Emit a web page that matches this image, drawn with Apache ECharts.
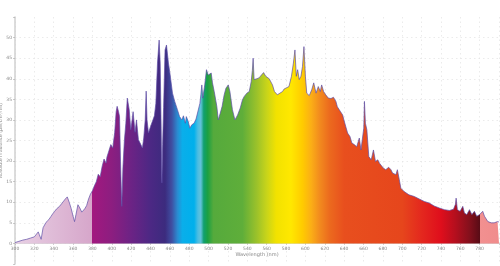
<!DOCTYPE html>
<html>
<head>
<meta charset="utf-8">
<script src="https://cdn.jsdelivr.net/npm/echarts@6/dist/echarts.min.js"></script>
<style>
html,body{margin:0;padding:0;background:#fff;}
#chart{width:500px;height:266px;}
</style>
</head>
<body>
<div id="chart"></div>
<script>
const wavelengths = [300,302,304,306,308,310,312,314,316,318,320,322,324,325,327,329,332,335,337,339,341,343,346,348,350,352,354,356,358,360,361.5,363,365,367,369,370.5,372,374,376,378,380,382,384,386,387,388,390,392,393,394,395,397,399,401,403,404.5,405.5,407,408,409,410.3,411.5,413,414.5,416,418,419.6,421,422,424,425.5,427.5,430,431.6,433,434.5,435.5,436.4,437.9,440,442,444,445.5,447.2,448.9,450,451,451.7,452.5,453.5,455,456.5,458.5,460,462.7,465,467.8,470,472.4,474,476,477,479,480.6,482.6,485,487,489,491,492,493,494,496,497.8,499.6,501,502.7,504,505.8,508.5,510,512,514,516,517.9,520.3,522,524.6,527.2,530,532.7,535,536.8,539.5,542,544,545.2,546,547,549.8,552,554,556.8,559,562.6,566,568,569.6,571,573,576.4,578,580,583,585.6,587.6,589.2,590.6,592,593.6,595.4,597,598.5,600,601.4,604,606.5,608.6,611,613.3,615.4,616.8,618.8,621,623.7,626.4,629,631.5,633,636,638.5,640,643.6,646,648,650.5,653,655.7,657.4,659,660.3,661,662,663.5,665.5,668,670.3,672.4,674.8,676.5,678,680.5,683,686,688.4,690,693.5,695,697,698.6,702,707,712.5,717.6,722.8,728,733,738.4,743.6,748.7,753,755,755.7,757,759.8,762.6,764.3,766.7,769.5,772,774.6,777,780,782,783.2,785,788.5,792,795,798.5,800];
const irradiance = [0.2,0.0,0.5,0.3,0.8,0.7,1.0,1.1,1.3,1.5,1.6,1.9,2.8,2.2,1.0,3.8,5.1,5.8,6.5,7.2,7.8,8.4,9.0,9.6,10.0,10.8,11.3,10.0,8.5,6.6,5.3,7.0,9.4,8.6,7.6,7.2,8.4,9.2,10.8,12.0,12.8,14.0,15.0,16.8,17.2,16.2,18.7,20.5,20.8,19.5,21.0,22.5,24.0,23.2,27,32,33.3,32,30.8,20,9,18.5,25,29.2,35.3,32.5,27.6,30,32,27,30,25.2,24,23.2,25.6,30,37,30,26.8,28.4,28,31,34,43.8,49.4,43.8,28,14.7,24,33,47,48.2,43.8,41.4,36.5,34.5,32.5,30.8,30,31,29.2,30.8,29.6,28,28.8,29.2,30.2,30,34,36.1,38.5,35.3,38.5,42.2,40.9,40.6,41.4,39,36.9,33.3,30,31.6,33.3,36,37.7,38.5,36.9,32.5,30,31.2,32.9,34.9,35.7,36.5,36.9,39.3,42,45,39.8,40,40.2,40.6,41.5,40.6,40,38.5,36.9,37.3,36.1,36.5,36.9,37.5,37.3,38.1,40.6,43.8,47,40.6,42.2,39.8,40.6,43,47.8,40.6,36.5,35.9,37.3,39,36.5,38.1,36.9,38.5,36.9,36.1,35.3,35.2,35.5,34.5,33.2,32.1,31.2,29.8,26.8,26,24.4,24,23.5,25.6,22.7,22.3,28,34.5,29.2,27.6,21.1,20.3,22.7,19.9,20.3,19.5,19.9,18.3,17.9,18.5,17.9,17.1,16.7,17.9,15.5,13.4,12.6,11.8,11.4,10.8,10.2,9.8,9.1,8.6,8.2,8.0,8.3,9.5,11.0,8.2,7.8,9.0,7.4,7.0,8.2,7.0,7.8,6.6,7.0,6.8,7.8,6.6,5.3,5.0,5.0,5.3,5.2];
const xTicks = [300,320,340,360,380,400,420,440,460,480,500,520,540,560,580,600,620,640,660,680,700,720,740,760,780,800];
const yTicks = [0,5,10,15,20,25,30,35,40,45,50];
const spectrumStops = [
  [300,'#e8d0e4'],[379.9,'#d6a6ca'],[380,'#a2187f'],[400,'#8c1e80'],[420,'#6c2385'],
  [440,'#4c2884'],[455,'#3c2b7e'],[462,'#3f4fa2'],[468,'#2a8cd2'],[473,'#0aaeea'],
  [485,'#00b0ec'],[489,'#4cbde2'],[492,'#62c2da'],[495,'#10a070'],[499,'#1ba042'],
  [505,'#55aa3c'],[535,'#5fae3a'],[550,'#9cc22a'],[560,'#c8d41a'],[570,'#f2e200'],
  [585,'#ffe800'],[597,'#ffcb00'],[606,'#fbae16'],[615,'#f28a1e'],[625,'#ec6a1e'],
  [640,'#e84f1e'],[700,'#e6461c'],[720,'#e4281e'],[740,'#df0e1c'],[755,'#b40f1e'],
  [770,'#82101c'],[779.9,'#5a0c16'],[780,'#f29090'],[800,'#f08c8c']
];
const xMin = 300, xMax = 800, yMin = -5, yMax = 55;

const chart = echarts.init(document.getElementById('chart'), null, {renderer:'canvas'});
const seriesData = wavelengths.map((w,i)=>[w, irradiance[i]]);
const stops = spectrumStops.map(s=>({offset:(s[0]-xMin)/(xMax-xMin), color:s[1]}));
const gridColors = [];
for (let v=yMin; v<=yMax; v+=5) gridColors.push(yTicks.indexOf(v)>=0 ? '#e6e6e6' : 'rgba(0,0,0,0)');
const gridTop = 17, gridBottom = 2;
const plotH = 266 - gridTop - gridBottom;
const zeroOffset = -plotH * (0 - yMin) / (yMax - yMin);

chart.setOption({
  animation:false,
  grid:{left:15, right:1, top:gridTop, bottom:gridBottom, containLabel:false, outerBoundsMode:'none'},
  xAxis:{
    type:'value', min:xMin, max:xMax, interval:20, offset:zeroOffset,
    name:'Wavelength (nm)', nameLocation:'middle', nameGap:9, nameMoveOverlap:false,
    nameTextStyle:{fontSize:5, color:'#888', fontFamily:'DejaVu Sans'},
    axisLine:{show:true, onZero:false, lineStyle:{color:'#cfcfcf', width:0.8}},
    axisTick:{show:true, length:1.5, lineStyle:{color:'#aaa', width:0.6}},
    axisLabel:{fontSize:4.5, color:'#888', margin:2.5, fontFamily:'DejaVu Sans',
      formatter:v=> (xTicks.indexOf(v)>=0 && v<800) ? String(v) : ''},
    splitLine:{show:true, lineStyle:{color:'#e6e6e6', width:0.8, type:[1.5,3]}}
  },
  yAxis:{
    type:'value', min:yMin, max:yMax, interval:5,
    name:'Absolute Irradiance (µW/cm²/nm)', nameLocation:'middle', nameGap:11.5, nameRotate:90, nameMoveOverlap:false,
    nameTextStyle:{fontSize:4.5, color:'#888', fontFamily:'DejaVu Sans'},
    axisLine:{show:true, onZero:false, lineStyle:{color:'#d0d0d0', width:1.5}},
    axisTick:{show:true, length:2, lineStyle:{color:'#aaa', width:0.6}},
    axisLabel:{fontSize:4.5, color:'#888', margin:3, fontFamily:'DejaVu Sans',
      formatter:v=> yTicks.indexOf(v)>=0 ? String(v) : ''},
    splitLine:{show:true, lineStyle:{color:gridColors, width:0.8, type:[1.5,3]}}
  },
  series:[{
    type:'line', data:seriesData, showSymbol:false, symbol:'none', smooth:false,
    lineStyle:{color:'#5c4ca4', width:0.8, opacity:0.85},
    areaStyle:{opacity:1, origin:0, color:new echarts.graphic.LinearGradient(0,0,1,0,stops)}
  }]
});
</script>
</body>
</html>
